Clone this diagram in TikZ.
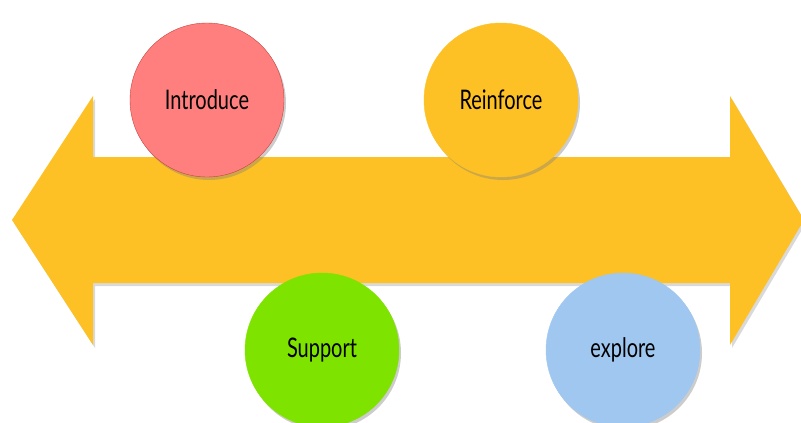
\documentclass[tikz,border=0pt]{standalone}
\usepackage{fontspec}
\setmainfont[FakeStretch=0.74]{Lato}
\usetikzlibrary{shapes,shadows}
\definecolor{gold}{HTML}{FDC125}
\definecolor{rosered}{HTML}{FF7F7F}
\definecolor{rosedark}{HTML}{C8423A}
\definecolor{limegreen}{HTML}{7FE300}
\definecolor{skyblue}{HTML}{9FC7EF}
\tikzstyle{stage}=[circle,minimum size=154pt,inner sep=0pt,font=\fontsize{27}{30}\selectfont,
  drop shadow={opacity=0.4,shadow xshift=2pt,shadow yshift=-3pt}]
\tikzstyle{bigarrow}=[fill=gold,drop shadow={opacity=0.3,shadow xshift=2pt,shadow yshift=-3pt}]

\begin{document}
\begin{tikzpicture}[x=1pt,y=-1pt]
    \useasboundingbox (0,0) rectangle (801,423);
    % double headed arrow
    \path[bigarrow] (12,220) -- (93,96) -- (93,157) -- (730,157) -- (730,96) -- (804,220)
        -- (730,345) -- (730,283) -- (93,283) -- (93,345) -- cycle;

    \foreach \pos/\name/\col/\line/\txt in {{(207,100)/intro/rosered/rosedark/Introduce},
    {(501,100)/reinf/gold/gold/Reinforce},{(322,350)/supp/limegreen/limegreen/Support},
    {(623,350)/expl/skyblue/skyblue/explore}}
        \node[stage,fill=\col,draw=\line] (\name) at \pos {\txt};
\end{tikzpicture}
\end{document}
